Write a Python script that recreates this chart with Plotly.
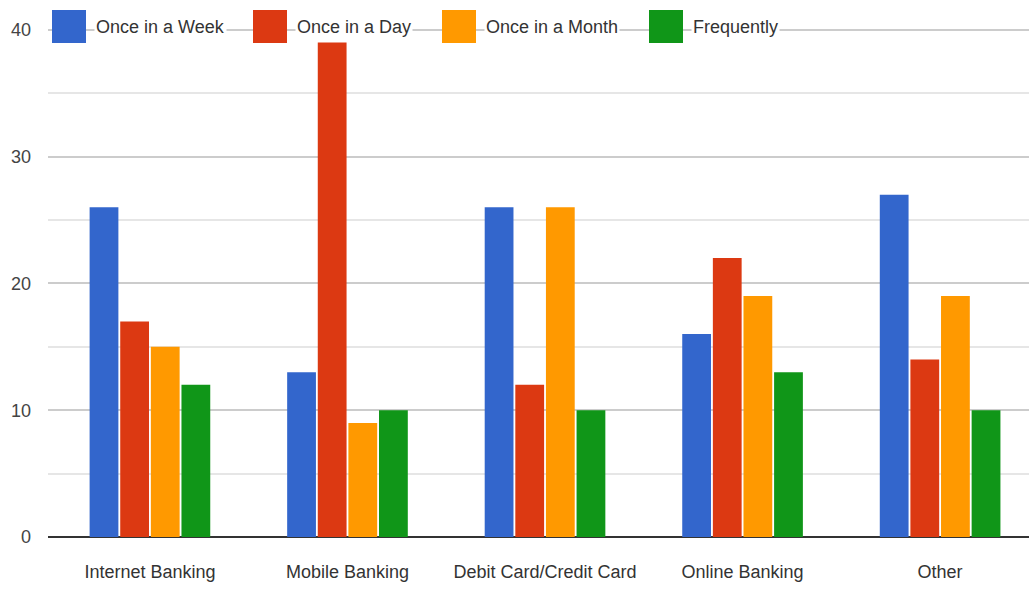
import plotly.graph_objects as go

# Usage frequency by banking channel
categories = ["Internet Banking", "Mobile Banking", "Debit Card/Credit Card", "Online Banking", "Other"]
series_names = ["Once in a Week", "Once in a Day", "Once in a Month", "Frequently"]
once_week = [26, 13, 26, 16, 27]
once_day = [17, 39, 12, 22, 14]
once_month = [15, 9, 26, 19, 19]
frequently = [12, 10, 10, 13, 10]
y_ticks = [0, 10, 20, 30, 40]

values = [once_week, once_day, once_month, frequently]
colors = ["#3366CC", "#DC3912", "#FF9900", "#109618"]

FONT = "Liberation Sans Narrow, Arial Narrow, Liberation Sans, Arial, sans-serif"

W, H = 1029, 595
ML, MR, MT, MB = 48, 0, 26, 58
Y_MAX = 40.3  # a little headroom so the 40 gridline is drawn inside the plot
plot_w = W - ML - MR
plot_h = H - MT - MB

fig = go.Figure()
for name, vals, col in zip(series_names, values, colors):
    fig.add_trace(go.Bar(
        x=list(range(len(categories))), y=vals, name=name,
        marker=dict(color=col, line=dict(width=0)),
        showlegend=False,
    ))

# Legend drawn along the top gridline: big square swatches + labels
swatch_x = [52, 253, 442, 649]
swatch_w, swatch_top, swatch_bot = 34, 10, 43
def px_to_paper_x(px):
    return (px - ML) / plot_w
def px_to_paper_y(py):
    return (H - MB - py) / plot_h

shapes = []
annotations = []
for sx, name, col in zip(swatch_x, series_names, colors):
    shapes.append(dict(
        type="rect", xref="paper", yref="paper",
        x0=px_to_paper_x(sx), x1=px_to_paper_x(sx + swatch_w),
        y0=px_to_paper_y(swatch_bot), y1=px_to_paper_y(swatch_top),
        fillcolor=col, line=dict(width=0), layer="above",
    ))
    annotations.append(dict(
        text=name, xref="paper", yref="paper",
        x=px_to_paper_x(sx + swatch_w + 8), y=px_to_paper_y(27),
        xanchor="left", yanchor="middle", showarrow=False,
        bgcolor="white", borderpad=1,
        font=dict(family=FONT, size=18, color="#333333"),
    ))

fig.update_layout(
    width=W, height=H,
    margin=dict(l=ML, r=MR, t=MT, b=MB),
    paper_bgcolor="white", plot_bgcolor="white",
    barmode="group", bargap=0.38, bargroupgap=0.06,
    font=dict(family=FONT, size=18, color="#333333"),
    shapes=shapes, annotations=annotations,
    xaxis=dict(
        range=[-0.516, 4.45],
        tickmode="array", tickvals=list(range(len(categories))), ticktext=categories,
        showgrid=False, zeroline=False, showline=False, ticks="",
        tickfont=dict(family=FONT, size=18, color="#333333"),
        ticklabelstandoff=22,
    ),
    yaxis=dict(
        range=[0, Y_MAX], tickmode="array", tickvals=y_ticks,
        showgrid=True, gridcolor="#cccccc", gridwidth=1.5,
        zeroline=True, zerolinecolor="#333333", zerolinewidth=2,
        showline=False, ticks="",
        minor=dict(dtick=5, showgrid=True, gridcolor="#e6e6e6", gridwidth=1.5),
        tickfont=dict(family=FONT, size=18, color="#444444"),
        ticklabelstandoff=16,
    ),
)

fig.write_html("out.html")
